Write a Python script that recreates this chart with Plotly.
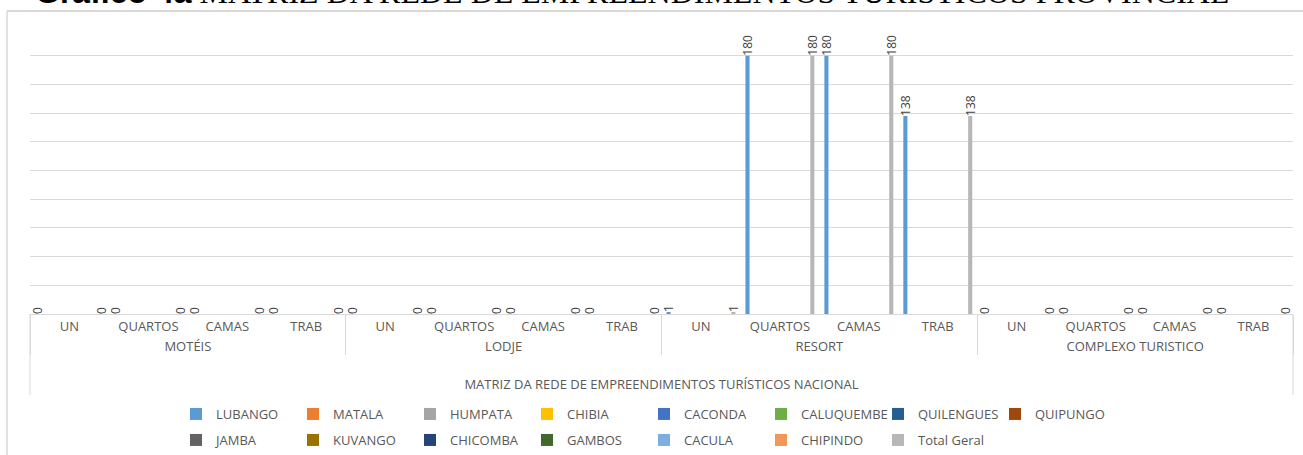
import plotly.graph_objects as go

groups = ["MOTÉIS", "LODJE", "RESORT", "COMPLEXO TURISTICO"]
subs = ["UN", "QUARTOS", "CAMAS", "TRAB"]
series_names = ["LUBANGO", "MATALA", "HUMPATA", "CHIBIA", "CACONDA", "CALUQUEMBE",
                "QUILENGUES", "QUIPUNGO", "JAMBA", "KUVANGO", "CHICOMBA", "GAMBOS",
                "CACULA", "CHIPINDO", "Total Geral"]
colors = ["#5B9BD5", "#ED7D31", "#A5A5A5", "#FFC000", "#4472C4", "#70AD47",
          "#255E91", "#9E480E", "#636363", "#997300", "#264478", "#43682B",
          "#7CAFDD", "#F1975A", "#B7B7B7"]

lubango = [0, 0, 0, 0, 0, 0, 0, 0, 1, 180, 180, 138, 0, 0, 0, 0]
zeros = [0] * 16
total_geral = [0, 0, 0, 0, 0, 0, 0, 0, 1, 180, 180, 138, 0, 0, 0, 0]
values = {name: zeros for name in series_names}
values["LUBANGO"] = lubango
values["Total Geral"] = total_geral
labelled = {"LUBANGO", "Total Geral"}

x_levels = [[g for g in groups for s in subs], [s for g in groups for s in subs]]

W, H = 1303, 455
L, R, T, B = 30, 10, 27, 141
pw, ph = W - L - R, H - T - B

def px_x(px):
    return (px - L) / pw

def px_y(py):
    return (H - B - py) / ph

fig = go.Figure()
for i, (name, col) in enumerate(zip(series_names, colors)):
    vals = values[name]
    fig.add_trace(go.Bar(
        x=x_levels, y=vals, name=name, marker_color=col, marker_line_width=0,
        text=[str(v) for v in vals] if name in labelled else None,
        textposition="outside" if name in labelled else "none",
        textangle=-90, constraintext="none", cliponaxis=False,
        textfont=dict(family="Open Sans", size=12, color="#404040"),
        legend="legend" if i < 8 else "legend2",
    ))

fig.update_layout(
    width=W, height=H, barmode="group", bargap=0.12, bargroupgap=0.12,
    margin=dict(l=L, r=R, t=T, b=B, autoexpand=False),
    paper_bgcolor="white", plot_bgcolor="white",
    font=dict(family="Open Sans", size=13, color="#595959"),
    xaxis=dict(type="multicategory", showgrid=False, showline=True,
               linecolor="#D9D9D9", linewidth=1, ticks="",
               automargin=False,
               showdividers=True, dividercolor="#D9D9D9", dividerwidth=1,
               tickfont=dict(size=13, color="#595959"),
               title=dict(text="MATRIZ DA REDE DE EMPREENDIMENTOS TURÍSTICOS NACIONAL",
                          font=dict(size=13, color="#595959"), standoff=26)),
    yaxis=dict(range=[0, 200], dtick=20, showticklabels=False, showgrid=True,
               gridcolor="#D9D9D9", gridwidth=1, zeroline=False, showline=False,
               automargin=False),
    showlegend=True,
    legend=dict(orientation="h", x=px_x(176), xanchor="left", y=px_y(414),
                yanchor="middle", entrywidth=72, entrywidthmode="pixels",
                font=dict(size=13, color="#595959"), bgcolor="rgba(0,0,0,0)"),
    legend2=dict(orientation="h", x=px_x(176), xanchor="left", y=px_y(440),
                 yanchor="middle", entrywidth=72, entrywidthmode="pixels",
                 font=dict(size=13, color="#595959"), bgcolor="rgba(0,0,0,0)"),
)

# chart frame (top and left edges visible)
fig.add_shape(type="line", xref="paper", yref="paper", x0=px_x(7), x1=px_x(1310),
              y0=px_y(11), y1=px_y(11), line=dict(color="#D9D9D9", width=2))
fig.add_shape(type="line", xref="paper", yref="paper", x0=px_x(7), x1=px_x(7),
              y0=px_y(11), y1=px_y(470), line=dict(color="#D9D9D9", width=1.5))
# outer category table edges
for xp in (30, 1293):
    fig.add_shape(type="line", xref="paper", yref="paper", x0=px_x(xp), x1=px_x(xp),
                  y0=px_y(314), y1=px_y(395), line=dict(color="#D9D9D9", width=1))

fig.add_annotation(
    xref="paper", yref="paper", x=px_x(33), y=px_y(12), xanchor="left", yanchor="bottom",
    showarrow=False,
    text="<span style='font-family:Liberation Sans'><b>Gráfico 4a</b></span> MATRIZ DA REDE DE EMPREENDIMENTOS TURÍSTICOS PROVINCIAL",
    font=dict(family="Liberation Serif", size=32, color="black"),
)

fig.write_html("out.html", config={"displayModeBar": False},
               post_script="document.body.style.margin='0';document.body.style.overflow='hidden';")
